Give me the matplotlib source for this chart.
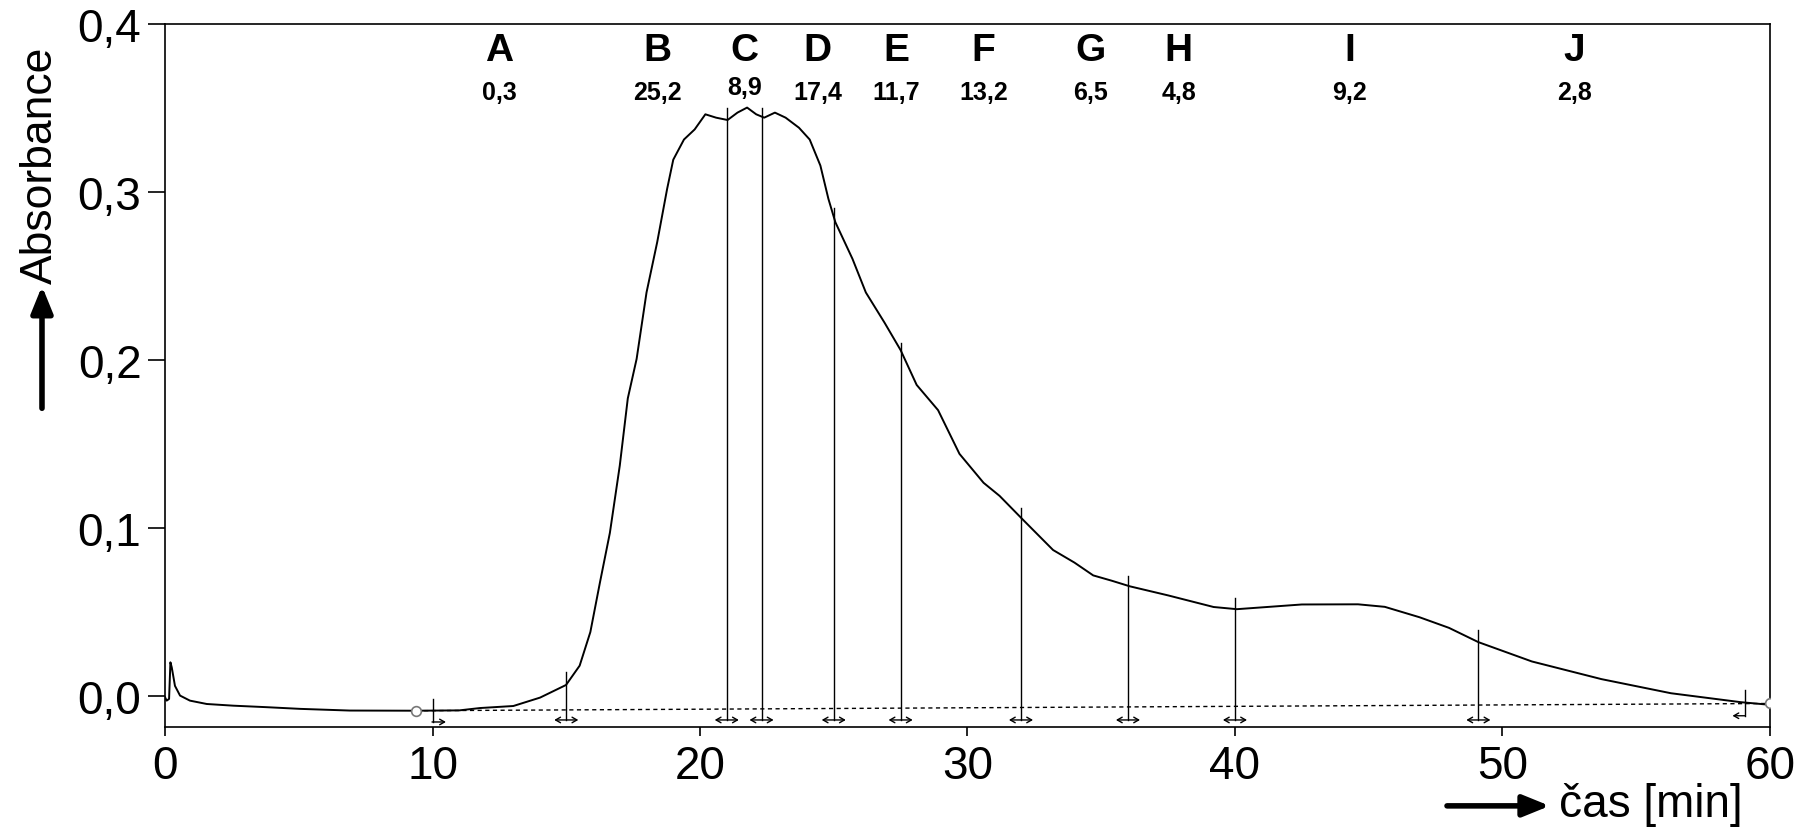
import numpy as np
import matplotlib
matplotlib.use("Agg")
import matplotlib.pyplot as plt
from matplotlib.ticker import FuncFormatter

plt.rcParams['font.family'] = ['Liberation Sans', 'DejaVu Sans']

# chromatogram trace (time in min, absorbance)
time = [0.0, 0.06, 0.15, 0.2, 0.25, 0.37, 0.56, 0.93, 1.56, 2.55, 3.8, 5.05, 6.9,
        9.4, 11.0, 11.78, 13.02, 14.02, 14.99, 15.5, 15.9, 16.26, 16.63, 17.0,
        17.3, 17.63, 18.0, 18.4, 18.77, 19.0, 19.4, 19.8, 20.2, 20.6, 21.03,
        21.4, 21.76, 22.1, 22.4, 22.8, 23.2, 23.7, 24.1, 24.5, 24.8, 25.06,
        25.7, 26.2, 26.9, 27.5, 28.1, 28.9, 29.7, 30.6, 31.2, 32.05, 33.2, 34.0,
        34.7, 35.4, 36.07, 37.5, 39.2, 40.07, 41.2, 42.5, 44.6, 45.6, 46.9, 48.0,
        49.1, 51.1, 53.7, 56.3, 58.9, 59.8, 60.0]
absorb = [-0.0008, -0.0028, -0.0018, 0.020, 0.017, 0.006, 0.0002, -0.0028, -0.0048,
          -0.0058, -0.0067, -0.0077, -0.0087,
          -0.0088, -0.0086, -0.0072, -0.0060, -0.0010, 0.0065, 0.018, 0.038, 0.0676,
          0.097, 0.137, 0.177, 0.2005, 0.240, 0.270, 0.3016, 0.319, 0.331, 0.337,
          0.346, 0.344, 0.3426, 0.347, 0.350, 0.346, 0.344, 0.347, 0.344, 0.338,
          0.331, 0.3155, 0.2957, 0.2818, 0.260, 0.240, 0.222, 0.2057, 0.185,
          0.170, 0.144, 0.1268, 0.119, 0.1052, 0.0868, 0.0793, 0.0717, 0.0685,
          0.0652, 0.0598, 0.0529, 0.0516, 0.0529, 0.0544, 0.0545, 0.053, 0.0468,
          0.0405, 0.032, 0.0205, 0.010, 0.0016, -0.0037, -0.005, -0.005]

# fraction cut positions and how far the cut line reaches up
cuts = [15.0, 21.0, 22.3, 25.0, 27.5, 32.0, 36.0, 40.0, 49.1]
cut_tops = [0.0143, 0.350, 0.350, 0.2905, 0.210, 0.1117, 0.0713, 0.0583, 0.0394]

# baseline (start/end)
base_x = [9.4, 60.0]
base_y = [-0.0088, -0.0045]

# fraction labels and their percentages
fractions = ['A', 'B', 'C', 'D', 'E', 'F', 'G', 'H', 'I', 'J']
frac_x = [12.5, 18.4, 21.65, 24.4, 27.35, 30.6, 34.6, 37.9, 44.3, 52.7]
frac_pct = ['0,3', '25,2', '8,9', '17,4', '11,7', '13,2', '6,5', '4,8', '9,2', '2,8']

fig = plt.figure(figsize=(18.02, 8.37), dpi=100)
ax = fig.add_axes([0.0916, 0.1302, 0.8906, 0.8405])

ax.plot(time, absorb, color='black', lw=1.4, zorder=3)
ax.plot(base_x, base_y, color='black', lw=1.0, ls=(0, (3, 2.5)), zorder=2)
ax.plot(base_x, base_y, 'o', ms=7, mfc='white', mec='#777777', mew=1.2, zorder=4)

arrow_y = -0.0143
for c, top in zip(cuts, cut_tops):
    ax.plot([c, c], [arrow_y, top], color='black', lw=1.0)
    ax.annotate('', xy=(c - 0.45, arrow_y), xytext=(c + 0.45, arrow_y),
                arrowprops=dict(arrowstyle='<->,head_length=0.35,head_width=0.2',
                                lw=1.0, color='black', shrinkA=0, shrinkB=0))

# start marker
ax.plot([10.0, 10.0], [-0.002, -0.0158], color='black', lw=1.0)
ax.annotate('', xy=(10.5, -0.0155), xytext=(9.98, -0.0155),
            arrowprops=dict(arrowstyle='->,head_length=0.35,head_width=0.2',
                            lw=1.0, color='black', shrinkA=0, shrinkB=0))
# end marker
ax.plot([59.05, 59.05], [0.0037, -0.012], color='black', lw=1.0)
ax.annotate('', xy=(58.6, -0.0118), xytext=(59.07, -0.0118),
            arrowprops=dict(arrowstyle='->,head_length=0.35,head_width=0.2',
                            lw=1.0, color='black', shrinkA=0, shrinkB=0))

for x, lab, pct in zip(frac_x, fractions, frac_pct):
    ax.text(x, 0.384, lab, ha='center', va='center', fontsize=28, fontweight='bold')
    ax.text(x, 0.362 if lab == 'C' else 0.3595, pct, ha='center', va='center',
            fontsize=18, fontweight='bold',
            family=['Liberation Sans Narrow', 'Liberation Sans'])

ax.set_xlim(0, 60)
ax.set_ylim(-0.0185, 0.4)
ax.set_xticks(np.arange(0, 61, 10))
ax.set_yticks([0.0, 0.1, 0.2, 0.3, 0.4])
ax.yaxis.set_major_formatter(FuncFormatter(lambda v, p: f'{v:.1f}'.replace('.', ',')))
ax.tick_params(axis='y', length=12, width=1.2, labelsize=33, pad=5)
ax.tick_params(axis='x', length=6.5, width=1.2, labelsize=33, pad=6)
for s in ax.spines.values():
    s.set_linewidth(1.2)

fig.text(0.0222, 0.803, 'Absorbance', rotation=90, ha='center', va='center', fontsize=32)
ax.annotate('', xy=(0.0233, 0.657), xytext=(0.0233, 0.511),
            xycoords='figure fraction', textcoords='figure fraction',
            arrowprops=dict(arrowstyle='-|>,head_length=1.6,head_width=0.65',
                            lw=4, color='black', shrinkA=0, shrinkB=0))
fig.text(0.865, 0.038, 'čas [min]', ha='left', va='center', fontsize=33)
ax.annotate('', xy=(0.860, 0.036), xytext=(0.803, 0.036),
            xycoords='figure fraction', textcoords='figure fraction',
            arrowprops=dict(arrowstyle='-|>,head_length=1.6,head_width=0.65',
                            lw=4, color='black', shrinkA=0, shrinkB=0))

fig.savefig('out.png', dpi=100)
